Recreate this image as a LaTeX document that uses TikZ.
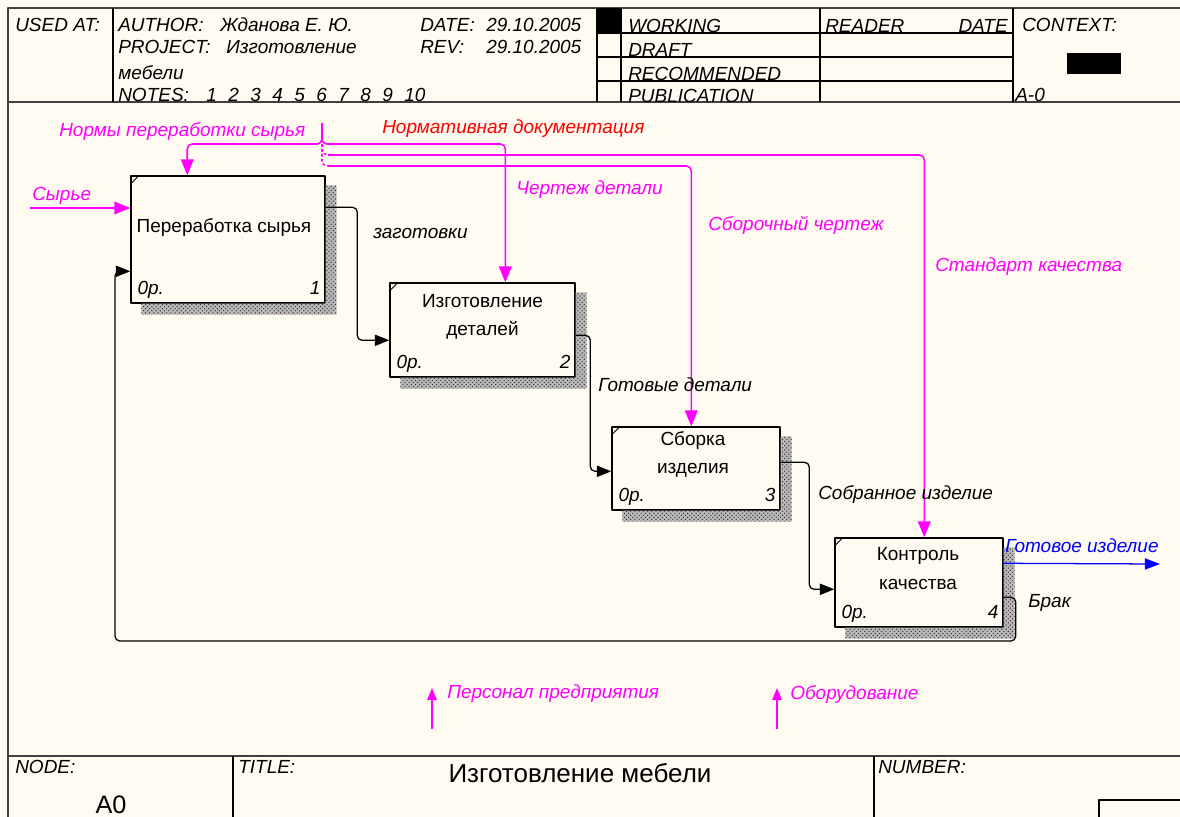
\documentclass[tikz,border=0pt]{standalone}
\usepackage{fontspec}
\setmainfont{Liberation Sans}
\usetikzlibrary{arrows.meta,calc,patterns}
\definecolor{idbg}{RGB}{255,251,240}
\definecolor{idmag}{RGB}{255,0,255}
\definecolor{idred}{RGB}{255,0,0}
\definecolor{idblue}{RGB}{0,0,255}
\definecolor{idframe}{RGB}{64,64,64}
\newcommand\idlbl{\fontsize{13.5}{16}\selectfont\itshape}
\newcommand\idtxt{\fontsize{13.5}{20}\selectfont}
\tikzset{
  frame/.style  ={draw=idframe, line width=1.6pt},
  grid/.style   ={draw=black, line width=0.8pt},
  act/.style    ={rectangle, draw=black, line width=1pt, fill=idbg, inner sep=0pt},
  acttxt/.style ={align=center, inner sep=0pt, font=\idtxt},
  hdr/.style    ={anchor=base west, inner sep=0pt, font=\idlbl},
  lbl/.style    ={anchor=west, inner sep=0pt, font=\idlbl},
  shade/.style  ={fill=black!28, postaction={pattern=crosshatch dots, pattern color=black!80}},
  ctl/.style    ={draw=idmag, line width=1.1pt, rounded corners=1.2mm},
  ctlarr/.style ={ctl, -{Triangle[length=4mm,width=3.2mm]}},
  mecharr/.style={draw=idmag, line width=0.9pt, -{Triangle[length=3mm,width=2.4mm]}},
  flow/.style   ={draw=black, line width=0.9pt, rounded corners=1.2mm,
                  -{Triangle[length=3.6mm,width=2.8mm]}},
  outflow/.style={flow, draw=idblue, -{Triangle[length=3.8mm,width=2.8mm,fill=idblue]}}
}

\begin{document}
\begin{tikzpicture}[x=0.025cm, y=-0.025cm, line join=round]
\useasboundingbox (0,0) rectangle (1180,817);
\fill[idbg] (0,0) rectangle (1180,817);

% frame and form grid
\draw[frame] (8,817) -- (8,8) -- (1180,8);
\draw[frame] (8,102) -- (1180,102);
\draw[frame] (8,756) -- (1180,756);
\foreach \hx in {113,597,621,820,1013}
  \draw[grid] (\hx,8) -- (\hx,102);
\foreach \hy in {33,57,81}
  \draw[grid] (597,\hy) -- (1013,\hy);
\fill (597,8) rectangle (621,33);
\fill (1067,53) rectangle (1121,74);
\draw[grid] (233,756) -- (233,817);
\draw[grid] (874,756) -- (874,817);
\draw[grid] (1099,817) |- (1180,800);

% header
\node[hdr] (usedat)  at (15,31)  {USED AT:};
\node[hdr] (author)  at (118,31) {AUTHOR:};
\node[hdr] (authnm)  at (220,31) {Жданова Е. Ю.};
\node[hdr] (date)    at (420,31) {DATE:};
\node[hdr] (dateval) at (486,31) {29.10.2005};
\node[hdr] (project) at (118,53) {PROJECT:};
\node[hdr] (projnm)  at (226,53) {Изготовление};
\node[hdr] (rev)     at (420,53) {REV:};
\node[hdr] (revval)  at (486,53) {29.10.2005};
\node[hdr] (projnm2) at (118,79) {мебели};
\node[hdr] (notes)   at (118,101) {NOTES:};
\foreach \n in {1,...,10}
  \node[hdr] (note\n) at (184+22*\n,101) {\n};
\node[hdr] (working) at (628,32)  {WORKING};
\node[hdr] (draft)   at (628,56)  {DRAFT};
\node[hdr] (recom)   at (628,80)  {RECOMMENDED};
\node[hdr] (publ)    at (628,102) {PUBLICATION};
\node[hdr] (reader)  at (825,32)  {READER};
\node[hdr, anchor=base east] (rdate) at (1008,32) {DATE};
\node[hdr] (context) at (1022,31) {CONTEXT:};
\node[hdr] (ctxnode) at (1015,101) {A-0};

% footer
\node[hdr] (nodelbl)  at (15,773)  {NODE:};
\node[inner sep=0pt, font=\fontsize{18}{20}\selectfont] (nodeid) at (111,805) {A0};
\node[hdr] (titlelbl) at (238,773) {TITLE:};
\node[inner sep=0pt, font=\fontsize{18.5}{20}\selectfont] (title) at (580,773) {Изготовление мебели};
\node[hdr] (numlbl)   at (878,773) {NUMBER:};

% activity boxes
\node[act, minimum width=4.85cm, minimum height=3.175cm] (box1) at (228,239.5) {};
\node[act, minimum width=4.625cm, minimum height=2.35cm] (box2) at (482.5,330) {};
\node[act, minimum width=4.2cm, minimum height=2.075cm] (box3) at (696,468.5) {};
\node[act, minimum width=4.2cm, minimum height=2.225cm] (box4) at (919,582.5) {};
\foreach \b in {box1,box2,box3,box4} {
  \fill[shade] ($(\b.north east)+(0,10)$) -- ($(\b.north east)+(11,10)$)
    -- ($(\b.south east)+(11,11)$) -- ($(\b.south west)+(11,11)$)
    -- ($(\b.south west)+(11,0)$) -- (\b.south east) -- cycle;
  \draw[line width=0.6pt] ($(\b.north west)+(0,9)$) -- ($(\b.north west)+(9,0)$);
}
\node[acttxt] (t1) at ($(box1.center)+(-4,-12)$) {Переработка сырья};
\node[acttxt] (t2) at ($(box2.center)+(0,-13)$) {Изготовление\\деталей};
\node[acttxt] (t3) at ($(box3.center)+(-3,-14)$) {Сборка\\изделия};
\node[acttxt] (t4) at ($(box4.center)+(-1,-14)$) {Контроль\\качества};
\foreach \b/\k in {box1/1,box2/2,box3/3,box4/4} {
  \node[hdr] (cost\k) at ($(\b.south west)+(7,-9)$) {0р.};
  \node[hdr, anchor=base east] (num\k) at ($(\b.south east)+(-5,-9)$) {\k};
}

% tunnel points
\coordinate (ctop) at (322,123);
\coordinate (cj) at (322,144);
\coordinate (cq) at (328,155);
\coordinate (cs) at (328,166);
\coordinate (rawin) at (30,208);
\coordinate (fb) at (115,641);
\coordinate (goodout) at (1160,564);
\coordinate (staff) at (432,729);
\coordinate (staffend) at (432,688);
\coordinate (equip) at (777,729);
\coordinate (equipend) at (777,688);

% controls
\draw[ctlarr] (ctop) -- (cj) -| ($(box1.north west)+(57,0)$);
\draw[ctlarr] (ctop) -- (cj) -| ($(box2.north west)+(116,0)$);
\draw[ctl, dash pattern=on 2pt off 1.5pt] (cj) .. controls (322,153) .. (cq);
\draw[ctl, dash pattern=on 2pt off 1.5pt] (cj) -- (322,156) .. controls (322,164) .. (cs);
\draw[ctlarr] (cq) -| ($(box4.north west)+(90,0)$);
\draw[ctlarr] (cs) -| ($(box3.north west)+(80,0)$);
\draw[ctlarr] (rawin) -- (rawin -| box1.west);

% mechanisms
\draw[mecharr] (staff) -- (staffend);
\draw[mecharr] (equip) -- (equipend);

% flows
\draw[flow] ($(box1.north east)+(0,32)$) -| ($(box2.north west)+(-32,58)$) -- ($(box2.north west)+(0,58)$);
\draw[flow] ($(box2.north east)+(0,53)$) -| ($(box3.north west)+(-21,45)$) -- ($(box3.north west)+(0,45)$);
\draw[flow] ($(box3.north east)+(0,36)$) -| ($(box4.north west)+(-25,52)$) -- ($(box4.north west)+(0,52)$);
\draw[flow] ($(box4.north east)+(0,60)$) -- ($(box4.north east)+(12,60)$) |- (fb) |- ($(box1.north west)+(0,96)$);
\draw[outflow] ($(box4.north east)+(0,26)$) -- (goodout);

% labels
\node[lbl, text=idmag] (lraw)   at (32,196)  {Сырье};
\node[lbl, text=idmag] (lnorm)  at (59,132)  {Нормы переработки сырья};
\node[lbl, text=idred] (ldocs)  at (382,129) {Нормативная документация};
\node[lbl, text=idmag] (ldraw)  at (516,190) {Чертеж детали};
\node[lbl, text=idmag] (lasm)   at (708,225) {Сборочный чертеж};
\node[lbl, text=idmag] (lstd)   at (935,267) {Стандарт качества};
\node[lbl, text=idmag] (lstaff) at (447,694) {Персонал предприятия};
\node[lbl, text=idmag] (lequip) at (790,694) {Оборудование};
\node[lbl] (lblank) at (373,233) {заготовки};
\node[lbl] (lparts) at (598,385) {Готовые детали};
\node[lbl] (lasmd)  at (818,495) {Собранное изделие};
\node[lbl] (lrej)   at (1028,603) {Брак};
\node[lbl, text=idblue] (lgood) at (1005,546) {Готовое изделие};
\end{tikzpicture}
\end{document}
